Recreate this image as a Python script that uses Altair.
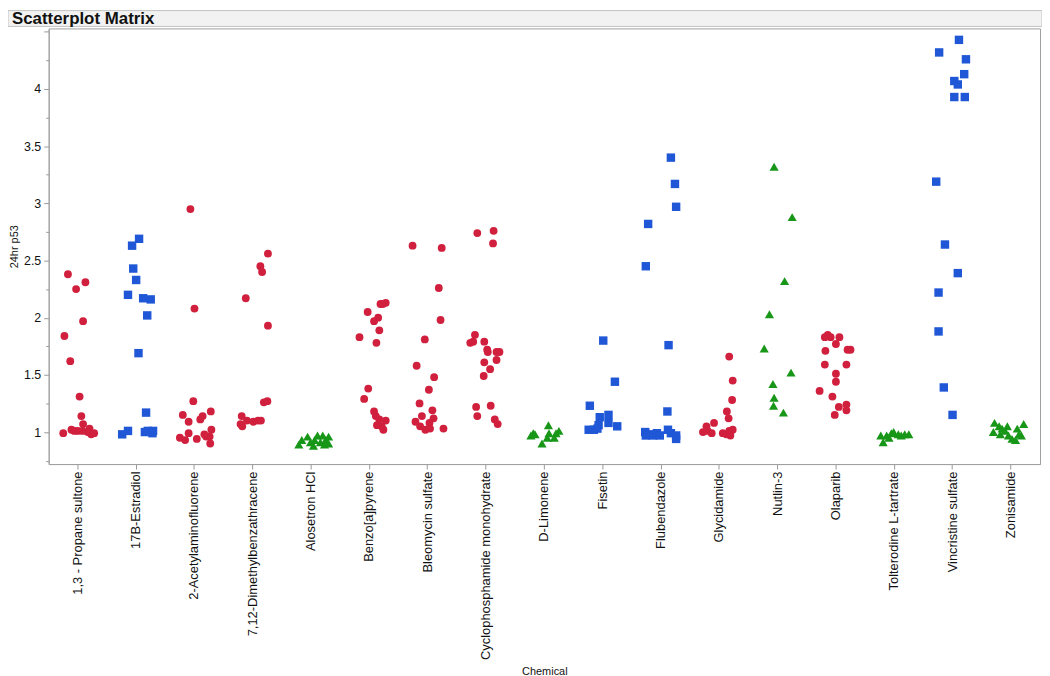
import altair as alt
import pandas as pd

TITLE = "Scatterplot Matrix"
X_TITLE = "Chemical"
Y_TITLE = "24hr p53"

CHEMICALS = [
    "1,3 - Propane sultone", "17B-Estradiol", "2-Acetylaminofluorene",
    "7,12-Dimethylbenzathracene", "Alosetron HCl", "Benzo[a]pyrene",
    "Bleomycin sulfate", "Cyclophosphamide monohydrate", "D-Limonene",
    "Fisetin", "Flubendazole", "Glycidamide", "Nutlin-3", "Olaparib",
    "Tolterodine L-tartrate", "Vincristine sulfate", "Zonisamide",
]
# marker group per chemical (r = red circle, b = blue square, g = green triangle)
GROUPS = ["r", "b", "r", "r", "g", "r", "r", "r", "g",
          "b", "b", "r", "g", "r", "g", "b", "g"]

# values (24hr p53) and horizontal jitter (fraction of the category band), per chemical
propane_y = [2.38, 2.25, 2.31, 1.97, 1.84, 1.62, 1.31, 1.14, 1.07, 0.99, 1.02, 1.01, 1.01, 1.01, 1.00, 1.03, 0.98, 0.99]
propane_dx = [-0.17, -0.03, 0.13, 0.09, -0.23, -0.13, 0.03, 0.06, 0.09, -0.25, -0.11, -0.06, 0.0, 0.08, 0.17, 0.20, 0.23, 0.28]
estradiol_y = [2.69, 2.63, 2.43, 2.33, 2.20, 2.17, 2.16, 2.02, 1.69, 1.17, 0.98, 1.01, 1.00, 1.01, 0.99, 1.01]
estradiol_dx = [0.05, -0.07, -0.05, 0.0, -0.14, 0.12, 0.25, 0.19, 0.04, 0.17, -0.24, -0.14, 0.15, 0.20, 0.28, 0.29]
acetyl_y = [2.95, 2.08, 1.27, 1.15, 1.09, 1.11, 1.14, 1.18, 0.99, 0.95, 0.93, 0.94, 0.98, 1.02, 0.96, 0.96, 0.90]
acetyl_dx = [-0.07, 0.0, -0.02, -0.20, -0.10, 0.10, 0.14, 0.28, -0.10, -0.25, -0.16, 0.04, 0.17, 0.29, 0.20, 0.26, 0.27]
dmba_y = [2.56, 2.45, 2.40, 2.17, 1.93, 1.27, 1.26, 1.14, 1.05, 1.10, 1.09, 1.10, 1.10, 1.07]
dmba_dx = [0.26, 0.13, 0.16, -0.12, 0.26, 0.25, 0.19, -0.19, -0.18, -0.10, 0.01, 0.09, 0.14, -0.21]
alosetron_y = [0.89, 0.93, 0.96, 0.91, 0.93, 0.97, 0.91, 0.97, 0.93, 0.96, 0.88, 0.89, 0.90]
alosetron_dx = [-0.21, -0.16, -0.06, -0.01, 0.06, 0.11, 0.16, 0.20, 0.25, 0.30, 0.04, 0.23, 0.30]
benzo_y = [1.83, 2.05, 1.97, 2.00, 1.89, 1.78, 2.12, 2.12, 2.13, 1.38, 1.29, 1.18, 1.14, 1.11, 1.10, 1.06, 1.05, 1.02]
benzo_dx = [-0.17, -0.03, 0.08, 0.15, 0.17, 0.12, 0.19, 0.23, 0.28, -0.02, -0.09, 0.08, 0.11, 0.17, 0.28, 0.13, 0.21, 0.24]
bleomycin_y = [2.63, 2.61, 2.26, 1.98, 1.81, 1.58, 1.48, 1.37, 1.25, 1.19, 1.14, 1.12, 1.09, 1.08, 1.05, 1.02, 1.03, 1.03]
bleomycin_dx = [-0.26, 0.24, 0.19, 0.22, -0.05, -0.19, 0.11, 0.02, -0.14, 0.08, -0.10, 0.10, -0.21, 0.03, -0.13, -0.04, 0.04, 0.27]
cyclo_y = [2.74, 2.76, 2.65, 1.85, 1.78, 1.79, 1.79, 1.72, 1.70, 1.70, 1.70, 1.61, 1.63, 1.55, 1.49, 1.22, 1.23, 1.14, 1.11, 1.07]
cyclo_dx = [-0.15, 0.13, 0.12, -0.19, -0.27, -0.22, -0.03, 0.02, 0.03, 0.18, 0.23, -0.03, 0.18, 0.07, -0.04, -0.17, 0.08, -0.15, 0.15, 0.20]
limonene_y = [0.97, 0.99, 0.98, 0.90, 1.06, 0.95, 0.99, 0.95, 0.99, 1.01]
limonene_dx = [-0.23, -0.19, -0.16, -0.04, 0.07, 0.05, 0.08, 0.17, 0.20, 0.25]
fisetin_y = [1.80, 1.44, 1.23, 1.13, 1.15, 1.08, 1.05, 1.06, 1.02, 1.02, 1.03]
fisetin_dx = [0.01, 0.21, -0.22, -0.05, 0.10, 0.10, 0.25, -0.07, -0.24, -0.15, -0.09]
fluben_y = [3.40, 3.17, 2.97, 2.82, 2.45, 1.76, 1.18, 1.00, 0.98, 0.97, 0.99, 0.97, 0.97, 1.02, 0.99, 0.97, 0.94]
fluben_dx = [0.17, 0.24, 0.26, -0.22, -0.26, 0.13, 0.11, -0.27, -0.20, -0.14, -0.07, -0.02, -0.26, 0.12, 0.17, 0.26, 0.26]
glycid_y = [1.66, 1.45, 1.28, 1.18, 1.12, 1.08, 1.05, 1.00, 1.01, 0.99, 0.99, 0.98, 1.01, 1.02, 0.97]
glycid_dx = [0.17, 0.23, 0.22, 0.13, 0.16, -0.09, -0.22, -0.28, -0.20, -0.13, 0.06, 0.12, 0.17, 0.23, 0.19]
nutlin_y = [3.32, 2.88, 2.32, 2.03, 1.73, 1.52, 1.42, 1.30, 1.23, 1.17]
nutlin_dx = [-0.06, 0.25, 0.12, -0.14, -0.23, 0.23, -0.08, -0.06, -0.07, 0.10]
olaparib_y = [1.36, 1.83, 1.85, 1.83, 1.83, 1.71, 1.77, 1.72, 1.72, 1.59, 1.59, 1.51, 1.44, 1.31, 1.22, 1.24, 1.19, 1.15]
olaparib_dx = [-0.28, -0.19, -0.14, -0.09, 0.06, -0.18, 0.0, 0.20, 0.25, -0.19, 0.18, 0.0, 0.0, -0.06, 0.05, 0.18, 0.18, -0.02]
tolterodine_y = [0.91, 0.97, 0.97, 0.99, 1.00, 0.98, 0.97, 0.98, 0.98, 0.95]
tolterodine_dx = [-0.19, -0.23, -0.13, -0.05, -0.01, 0.07, 0.12, 0.18, 0.25, -0.09]
vincristine_y = [4.43, 4.32, 4.26, 4.13, 4.07, 4.04, 3.93, 3.93, 3.19, 2.64, 2.39, 2.22, 1.88, 1.39, 1.15]
vincristine_dx = [0.11, -0.23, 0.23, 0.20, 0.03, 0.09, 0.03, 0.21, -0.28, -0.13, 0.09, -0.24, -0.24, -0.15, 0.0]
zonisamide_y = [1.08, 1.00, 1.05, 0.98, 1.01, 1.05, 0.97, 0.94, 1.03, 0.98, 0.97, 1.07, 0.93, 1.03]
zonisamide_dx = [-0.28, -0.30, -0.20, -0.18, -0.10, -0.06, -0.04, 0.02, 0.11, 0.14, 0.18, 0.22, 0.08, -0.15]

SERIES_Y = [propane_y, estradiol_y, acetyl_y, dmba_y, alosetron_y, benzo_y,
            bleomycin_y, cyclo_y, limonene_y, fisetin_y, fluben_y, glycid_y,
            nutlin_y, olaparib_y, tolterodine_y, vincristine_y, zonisamide_y]
SERIES_DX = [propane_dx, estradiol_dx, acetyl_dx, dmba_dx, alosetron_dx, benzo_dx,
             bleomycin_dx, cyclo_dx, limonene_dx, fisetin_dx, fluben_dx, glycid_dx,
             nutlin_dx, olaparib_dx, tolterodine_dx, vincristine_dx, zonisamide_dx]

Y_TICKS = [0.75, 1, 1.25, 1.5, 1.75, 2, 2.25, 2.5, 2.75, 3, 3.25, 3.5, 3.75, 4, 4.25, 4.5]

rows = []
for chem, grp, ys, dxs in zip(CHEMICALS, GROUPS, SERIES_Y, SERIES_DX):
    for v, d in zip(ys, dxs):
        rows.append({"Chemical": chem, "group": grp, "p53": v, "jit": d})
df = pd.DataFrame(rows)

FONT = "Liberation Sans"
W, H = 999, 439

points = alt.Chart(df).mark_point(filled=True, opacity=1, strokeWidth=0).encode(
    x=alt.X("Chemical:N", sort=CHEMICALS,
            scale=alt.Scale(paddingInner=0, paddingOuter=0),
            axis=alt.Axis(title=X_TITLE, labelAngle=-90, labelFontSize=13,
                          labelFont=FONT, labelColor="#111", labelPadding=2,
                          tickSize=5, tickColor="#999", domainColor="#a0a0a0",
                          titleFont=FONT, titleFontSize=11, titleFontWeight="normal",
                          titleColor="#111", titlePadding=6, labelLimit=400)),
    xOffset=alt.XOffset("jit:Q", scale=alt.Scale(domain=[-0.5, 0.5])),
    y=alt.Y("p53:Q", scale=alt.Scale(domain=[0.72, 4.53], nice=False, zero=False),
            axis=alt.Axis(title=Y_TITLE, values=Y_TICKS, format="~g",
                          labelExpr="(datum.value % 0.5 == 0 && datum.value <= 4) ? datum.label : ''",
                          tickSize={"condition": {"test": "datum.value % 0.5 == 0", "value": 5}, "value": 3},
                          tickColor="#999", domainColor="#a0a0a0", grid=False,
                          labelFont=FONT, labelFontSize=12.5, labelColor="#111", labelPadding=3,
                          titleFont=FONT, titleFontSize=11, titleFontWeight="normal",
                          titleColor="#111", titlePadding=4)),
    color=alt.Color("group:N", scale=alt.Scale(domain=["r", "b", "g"],
                                              range=["#d1203d", "#1f57d6", "#179617"]), legend=None),
    shape=alt.Shape("group:N", scale=alt.Scale(domain=["r", "b", "g"],
                                              range=["circle", "square", "triangle-up"]), legend=None),
    size=alt.SizeValue(value=62, condition=[
        {"test": "datum.group == 'g'", "value": 85},
        {"test": "datum.group == 'b'", "value": 72},
    ]),
)

header_df = pd.DataFrame({"t": [TITLE]})
header_bar = alt.Chart(header_df).mark_rect(fill="#f2f2f2", stroke="#c4c4c4", strokeWidth=1).encode(
    x=alt.value(-41), x2=alt.value(W + 2), y=alt.value(-18), y2=alt.value(-2))
header_text = alt.Chart(header_df).mark_text(align="left", baseline="middle", fontSize=17,
                                             fontWeight="bold", font=FONT, color="#111").encode(
    x=alt.value(-37), y=alt.value(-9), text="t:N")

chart = alt.layer(header_bar, header_text, points).properties(
    width=W, height=H,
    autosize=alt.AutoSizeParams(type="none"),
    padding={"left": 41, "top": 18, "right": 2, "bottom": 212},
).configure_view(stroke="#a0a0a0", strokeWidth=1)

chart.save("out.html", embed_options={"renderer": "svg", "actions": False})
